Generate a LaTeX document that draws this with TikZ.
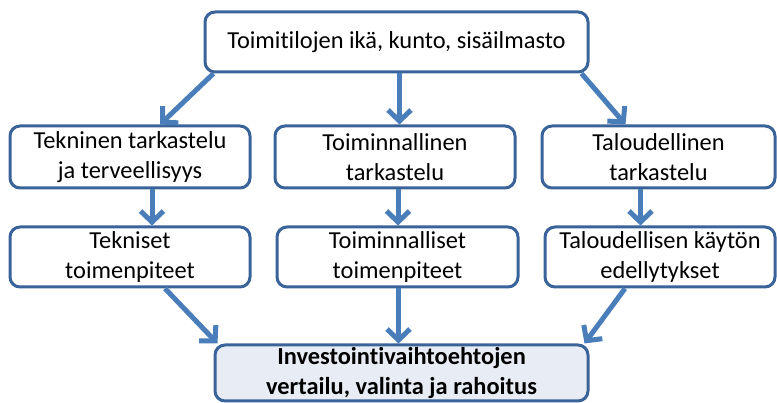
\documentclass[tikz,border=0pt]{standalone}
\usepackage{fontspec}
\setmainfont[Ligatures=NoCommon]{Carlito}
\usetikzlibrary{arrows.meta}

\definecolor{boxline}{HTML}{3A639A}
\definecolor{arrowblue}{HTML}{4A7EBB}
\definecolor{boxfill}{HTML}{E8ECF4}

\tikzset{
    box/.style={draw=boxline, line width=3pt, rounded corners=10pt, fill=white,
        align=center, inner sep=0pt, font=\fontsize{24.4}{30}\selectfont},
    arr/.style={draw=arrowblue, line width=5pt,
        -{Straight Barb[length=11pt, width=23pt, line width=5pt]}}
}

\begin{document}
\begin{tikzpicture}[x=1pt, y=-1pt]
        \useasboundingbox (0,0) rectangle (777,403);

        % Top
        \node [box, minimum width=383pt, minimum height=60pt] (ika) at (396.5,42)
            {Toimitilojen ikä, kunto, sisäilmasto};

        % Row 2
        \node [box, minimum width=240pt, minimum height=62pt] (tekn) at (130,157)
            {Tekninen tarkastelu\\ja terveellisyys};
        \node [box, minimum width=240pt, minimum height=62pt] (toim) at (395,157)
            {Toiminnallinen\\tarkastelu};
        \node [box, minimum width=233pt, minimum height=62pt] (talo) at (658.5,157)
            {Taloudellinen\\tarkastelu};

        % Row 3
        \node [box, minimum width=240pt, minimum height=60pt] (teknt) at (130,257)
            {Tekniset\\toimenpiteet};
        \node [box, minimum width=241pt, minimum height=60pt] (toimt) at (397.5,257)
            {Toiminnalliset\\toimenpiteet};
        \node [box, minimum width=230pt, minimum height=60pt] (talot) at (660,257)
            {Taloudellisen käytön\\edellytykset};

        % Bottom
        \node [box, fill=boxfill, minimum width=373pt, minimum height=56pt,
            font=\fontsize{24.4}{30}\selectfont\bfseries] (inv) at (401.5,373)
            {Investointivaihtoehtojen\\vertailu, valinta ja rahoitus};

        % Arrows from top
        \draw [arr] ([xshift=10pt]ika.south west) -- ([xshift=30pt]tekn.north);
        \draw [arr] ([xshift=3pt]ika.south) -- ([xshift=3pt]ika.south |- toim.north);
        \draw [arr] ([xshift=-8pt]ika.south east) -- ([xshift=-33pt]talo.north);

        % Arrows row 2 to row 3
        \draw [arr] ([xshift=22pt]tekn.south) -- ([xshift=22pt]tekn.south |- teknt.north);
        \draw [arr] ([xshift=3pt]toim.south) -- ([xshift=3pt]toim.south |- toimt.north);
        \draw [arr] ([xshift=-18pt]talo.south) -- ([xshift=-18pt]talo.south |- talot.north);

        % Arrows to bottom
        \draw [arr] ([xshift=35pt]teknt.south) -- ([xshift=4pt]inv.north west);
        \draw [arr] ([xshift=1pt]toimt.south) -- ([xshift=1pt]toimt.south |- inv.north);
        \draw [arr] ([xshift=-35pt]talot.south) -- ([xshift=-5pt]inv.north east);

    \end{tikzpicture}
\end{document}
